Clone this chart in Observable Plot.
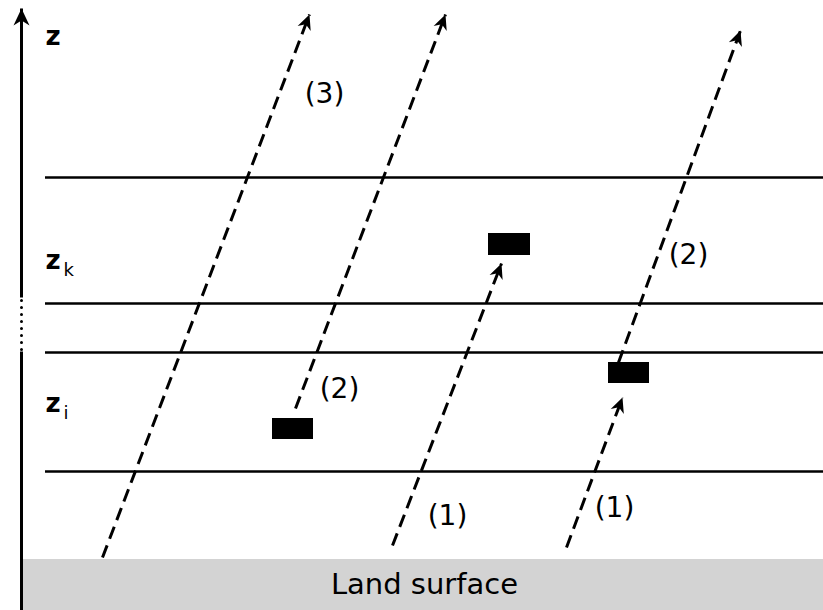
<!DOCTYPE html>
<html>
<head>
<meta charset="utf-8">
<script src="https://cdn.jsdelivr.net/npm/d3@7"></script>
<script src="https://cdn.jsdelivr.net/npm/@observablehq/plot@0.6"></script>
<style>
  body { margin: 0; background: #fff; }
  #chart svg { display: block; }
</style>
</head>
<body>
<div id="chart"></div>
<script>
// Layer boundaries (height units, top-down)
const layerLevels = [177, 303, 352, 471];
// Ground surface band
const groundTop = [559];
const groundLabel = ["Land surface"];
// Dashed trajectories (start -> arrow tip)
const pathX1 = [102, 295, 392, 566, 618];
const pathY1 = [557, 408, 545, 547, 362];
const pathX2 = [309, 445, 501, 622, 740];
const pathY2 = [14, 14, 263, 397, 30];
// Trajectory labels
const pathLabels = ["(3)", "(2)", "(1)", "(1)", "(2)"];
const labelX = [324, 339, 447, 614, 688];
const labelY = [94, 389, 516, 508, 255];
// Emission blocks
const blockX1 = [272, 488, 608];
const blockX2 = [313, 530, 649];
const blockY1 = [418, 233, 362];
const blockY2 = [439, 255, 383];
// Axis labels
const axisLabels = ["z", "z", "z"];
const axisSubs = ["", "k", "i"];
const axisLabelY = [36, 260, 403];

const W = 823, H = 610;
const svgns = "http://www.w3.org/2000/svg";

function stealth(len, half) {
  return (color, context) => {
    const doc = (context && context.document) || document;
    const m = doc.createElementNS(svgns, "marker");
    m.setAttribute("viewBox", `${-len - 1} ${-half - 1} ${len + 2} ${2 * half + 2}`);
    m.setAttribute("markerUnits", "userSpaceOnUse");
    m.setAttribute("markerWidth", len + 2);
    m.setAttribute("markerHeight", 2 * half + 2);
    m.setAttribute("refX", 0);
    m.setAttribute("refY", 0);
    m.setAttribute("orient", "auto");
    const p = doc.createElementNS(svgns, "path");
    p.setAttribute("d", `M0,0L${-len},${-half}L${-len * 0.7},0L${-len},${half}Z`);
    p.setAttribute("fill", color);
    p.setAttribute("stroke", "none");
    p.setAttribute("stroke-dasharray", "none");
    m.appendChild(p);
    return m;
  };
}

const paths = pathX1.map((x, i) => ({x1: x, y1: pathY1[i], x2: pathX2[i], y2: pathY2[i]}));
const labels = pathLabels.map((t, i) => ({t, x: labelX[i], y: labelY[i]}));
const blocks = blockX1.map((x, i) => ({x1: x, x2: blockX2[i], y1: blockY1[i], y2: blockY2[i]}));
const zlabels = axisLabels.map((t, i) => ({t, s: axisSubs[i], y: axisLabelY[i]}));

const font = "'DejaVu Sans', sans-serif";

const chart = Plot.plot({
  width: W,
  height: H,
  margin: 0,
  x: {domain: [0, W], range: [0, W], axis: null},
  y: {domain: [0, H], range: [0, H], axis: null},
  style: {fontFamily: font, background: "#fff", color: "#000"},
  marks: [
    Plot.rect(groundTop, {x1: 21, x2: W, y1: d => d, y2: H, fill: "#d3d3d3"}),
    Plot.text(groundLabel, {x: 424, y: 584, text: d => d, fontSize: 29, fill: "#000"}),
    Plot.ruleY(layerLevels, {x1: 45, x2: W, stroke: "#000", strokeWidth: 2.6}),
    // vertical axis: solid, dotted, solid with arrow
    Plot.link([{a: H, b: 351}], {x1: 21, x2: 21, y1: "a", y2: "b", stroke: "#000", strokeWidth: 3}),
    Plot.link([{a: 349, b: 298}], {x1: 21, x2: 21, y1: "a", y2: "b", stroke: "#000", strokeWidth: 3, strokeDasharray: "0,7", strokeLinecap: "round"}),
    Plot.link([{a: 297, b: 8}], {x1: 21, x2: 21, y1: "a", y2: "b", stroke: "#000", strokeWidth: 3, markerEnd: stealth(17, 8)}),
    Plot.text(zlabels, {x: 45, y: "y", text: "t", fontSize: 26, fontWeight: "bold", textAnchor: "start", fill: "#000"}),
    Plot.text(zlabels, {x: 63, y: d => d.y + 10, text: "s", fontSize: 18, textAnchor: "start", fill: "#000"}),
    Plot.link(paths, {x1: "x1", y1: "y1", x2: "x2", y2: "y2", stroke: "#000", strokeWidth: 3, strokeDasharray: "13,7", markerEnd: stealth(15, 7)}),
    Plot.rect(blocks, {x1: "x1", x2: "x2", y1: "y1", y2: "y2", fill: "#000"}),
    Plot.text(labels, {x: "x", y: "y", text: "t", fontSize: 28, fill: "#000"})
  ]
});
document.getElementById("chart").appendChild(chart);
</script>
</body>
</html>
